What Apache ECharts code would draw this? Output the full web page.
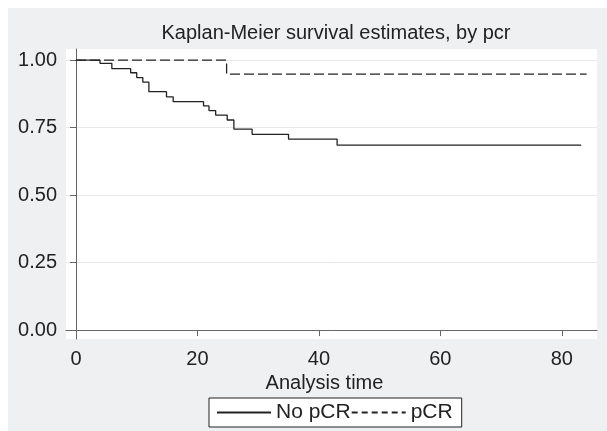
<!DOCTYPE html>
<html><head><meta charset="utf-8">
<script src="https://cdn.jsdelivr.net/npm/echarts@6/dist/echarts.min.js"></script>
<style>html,body{margin:0;padding:0;background:#fff;}#c{position:absolute;left:8px;top:8px;width:599px;height:423px;}</style>
</head><body><div id="c"></div>
<script>
const titleText = 'Kaplan-Meier survival estimates, by pcr';
const xAxisTitle = 'Analysis time';
const seriesNames = ['No pCR', 'pCR'];
const xTicks = [0, 20, 40, 60, 80];
const yTicks = [0, 0.25, 0.5, 0.75, 1];
const timesNoPCR = [0, 3.95, 5.9, 9.0, 10.0, 11.0, 12.0, 14.9, 16.0, 21.0, 21.9, 23.0, 24.9, 26.0, 29.0, 35.0, 43.0, 83.2];
const survNoPCR = [1, 0.988, 0.968, 0.953, 0.935, 0.918, 0.883, 0.864, 0.846, 0.830, 0.813, 0.796, 0.778, 0.744, 0.725, 0.707, 0.685, 0.685];
const timesPCR = [0, 24.8, 84.1];
const survPCR = [1, 0.948, 0.948];

const FONT = '"Liberation Sans", Arial, Helvetica, sans-serif';
const TXT = '#222';
const chart = echarts.init(document.getElementById('c'), null, {renderer: 'canvas'});
chart.setOption({
  animation: false,
  backgroundColor: '#eff0f2',
  textStyle: {fontFamily: FONT},
  title: {
    text: titleText, left: 323, top: 10, textAlign: 'center',
    textStyle: {fontFamily: FONT, fontSize: 20, fontWeight: 'normal', color: TXT}
  },
  grid: {left: 58, top: 41, right: 10, bottom: 92, show: true, backgroundColor: '#fff', borderWidth: 0},
  legend: {
    data: [{name: seriesNames[0]}, {name: seriesNames[1], lineStyle: {type: [6, 4]}}],
    left: 201, top: 390, orient: 'horizontal',
    backgroundColor: '#fff', borderColor: '#222', borderWidth: 1, padding: [4, 9, 4, 7],
    itemGap: 0, itemWidth: 54, itemHeight: 14,
    itemStyle: {opacity: 0},
    textStyle: {fontFamily: FONT, fontSize: 21, color: TXT}
  },
  xAxis: {
    type: 'value', min: -1.65, max: 85.8,
    name: xAxisTitle, nameLocation: 'middle', nameGap: 32,
    nameTextStyle: {fontFamily: FONT, fontSize: 20, color: TXT, padding: [0, 14, 0, 0]},
    axisLine: {show: true, lineStyle: {color: '#666', width: 1}},
    axisTick: {show: true, length: 6, customValues: xTicks, lineStyle: {color: '#666'}},
    axisLabel: {customValues: xTicks, margin: 10, fontFamily: FONT, fontSize: 20, color: TXT},
    splitLine: {show: false}
  },
  yAxis: {
    type: 'value', min: -0.033, max: 1.041,
    axisLine: {show: true, lineStyle: {color: '#666', width: 1}},
    axisTick: {show: true, length: 6, customValues: yTicks, lineStyle: {color: '#666'}},
    axisLabel: {customValues: yTicks, margin: 9, fontFamily: FONT, fontSize: 20, color: TXT,
      formatter: v => v.toFixed(2)},
    splitLine: {show: true, lineStyle: {color: '#e8e8e8', width: 1}}
  },
  series: [
    {name: seriesNames[0], type: 'line', step: 'end', symbol: 'none',
     data: timesNoPCR.map((t, i) => [t, survNoPCR[i]]),
     lineStyle: {color: '#222', width: 1.3, type: 'solid'}, itemStyle: {color: '#222'}},
    {name: seriesNames[1], type: 'line', step: 'end', symbol: 'none',
     data: timesPCR.map((t, i) => [t, survPCR[i]]),
     lineStyle: {color: '#222', width: 1.3, type: [10, 4]}, itemStyle: {color: '#222'}}
  ]
});
</script></body></html>
